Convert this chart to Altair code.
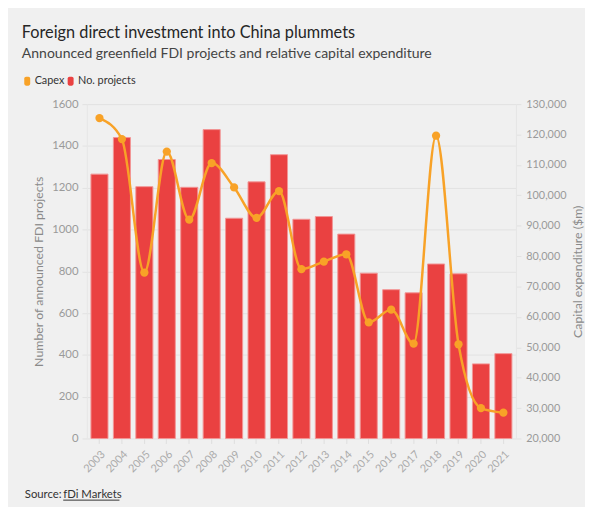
import altair as alt
import pandas as pd

years = [str(y) for y in range(2003, 2022)]
projects = [1265, 1440, 1205, 1335, 1202, 1478, 1054, 1228, 1358, 1049,
            1062, 978, 791, 712, 697, 835, 788, 357, 406]
capex = [125400, 118500, 74600, 114400, 92000, 110600, 102600, 92600, 101400,
         75700, 78200, 80600, 58200, 62400, 51200, 119600, 51000, 30000, 28500]
series_names = ["Capex", "No. projects"]
series_colors = ["#f8a227", "#ea4141"]

title_text = "Foreign direct investment into China plummets"
subtitle_text = "Announced greenfield FDI projects and relative capital expenditure"
source_label = "Source:"
source_link = "fDi Markets"

left_ticks = list(range(0, 1601, 200))
right_ticks = list(range(20000, 130001, 10000))

df = pd.DataFrame({"year": years, "projects": projects, "capex": capex})

FONT = "Lato"
x_enc = alt.X("year:O", title=None,
              scale=alt.Scale(paddingInner=0.24, paddingOuter=0.18),
              axis=alt.Axis(labelAngle=-45, labelColor="#aaaaaa", labelFontSize=11,
                            tickColor="#dddddd", tickSize=5, domain=False, labelPadding=5))

bars = alt.Chart(df).mark_bar(stroke="#f29595", strokeWidth=1).encode(
    x=x_enc,
    y=alt.Y("projects:Q", title="Number of announced FDI projects",
            scale=alt.Scale(domain=[0, 1600], nice=False),
            axis=alt.Axis(values=left_ticks, format="d", grid=True, gridColor="#e2e2e2",
                          tickColor="#e2e2e2", tickSize=5, domainColor="#e6e6e6",
                          labelColor="#9a9a9a", labelFontSize=11.5, labelPadding=4,
                          titleColor="#8a8a8a", titleFontSize=12.5, titleFontWeight="normal",
                          titlePadding=6)),
    color=alt.Color("s:N", scale=alt.Scale(domain=series_names, range=series_colors),
                    legend=alt.Legend(title=None))
).transform_calculate(s="'No. projects'")

line = alt.Chart(df).mark_line(
    interpolate="monotone", strokeWidth=2.5, color=series_colors[0],
    point=alt.OverlayMarkDef(filled=True, size=70, color=series_colors[0], opacity=1)
).encode(
    x=alt.X("year:O"),
    y=alt.Y("capex:Q", title="Capital expenditure ($m)",
            scale=alt.Scale(domain=[20000, 130000], nice=False),
            axis=alt.Axis(orient="right", values=right_ticks, format=",.0f", grid=False,
                          tickColor="#e2e2e2", tickSize=5, domainColor="#e6e6e6",
                          labelColor="#9a9a9a", labelFontSize=11, labelPadding=5,
                          titleColor="#8a8a8a", titleFontSize=12.5, titleFontWeight="normal",
                          titleAngle=270, titleBaseline="top", titlePadding=6)),
)

def txt(t, x, y, size, color, weight="normal"):
    return alt.Chart(pd.DataFrame({"t": [t]})).mark_text(
        align="left", baseline="alphabetic", font=FONT, fontSize=size,
        color=color, fontWeight=weight
    ).encode(text="t:N", x=alt.value(x), y=alt.value(y))

title = txt(title_text, -66, -67, 16.5, "#262626")
subtitle = txt(subtitle_text, -66, -47, 14.2, "#444444")
source1 = txt(source_label, -63, 399, 11.5, "#333333")
source2 = txt(source_link, -24, 399, 11.5, "#333333")
underline = alt.Chart(pd.DataFrame({"a": [0]})).mark_rule(color="#333333", strokeWidth=1).encode(
    x=alt.value(-24), x2=alt.value(33), y=alt.value(401.5))

rr = ("M-0.67,-0.6 Q-0.67,-1 -0.27,-1 L0.27,-1 Q0.67,-1 0.67,-0.6 L0.67,0.6 "
      "Q0.67,1 0.27,1 L-0.27,1 Q-0.67,1 -0.67,0.6 Z")

chart = alt.layer(bars, line, title, subtitle, source1, source2, underline).resolve_scale(
    y="independent"
).properties(
    width=435, height=339,
    padding={"left": 80, "top": 94, "right": 70, "bottom": 66},
    autosize=alt.AutoSizeParams(type="none"),
    background="#f0f0f0",
).configure_view(stroke=None).configure_legend(
    orient="none", legendX=-66, legendY=-29, direction="horizontal",
    labelFont=FONT, labelFontSize=11, labelColor="#333333", symbolType=rr,
    symbolSize=81, symbolStrokeWidth=0, labelOffset=2, columnPadding=0, padding=0
).configure_axis(labelFont=FONT, titleFont=FONT)

chart.save("out.html", embed_options={"renderer": "svg", "actions": False})
